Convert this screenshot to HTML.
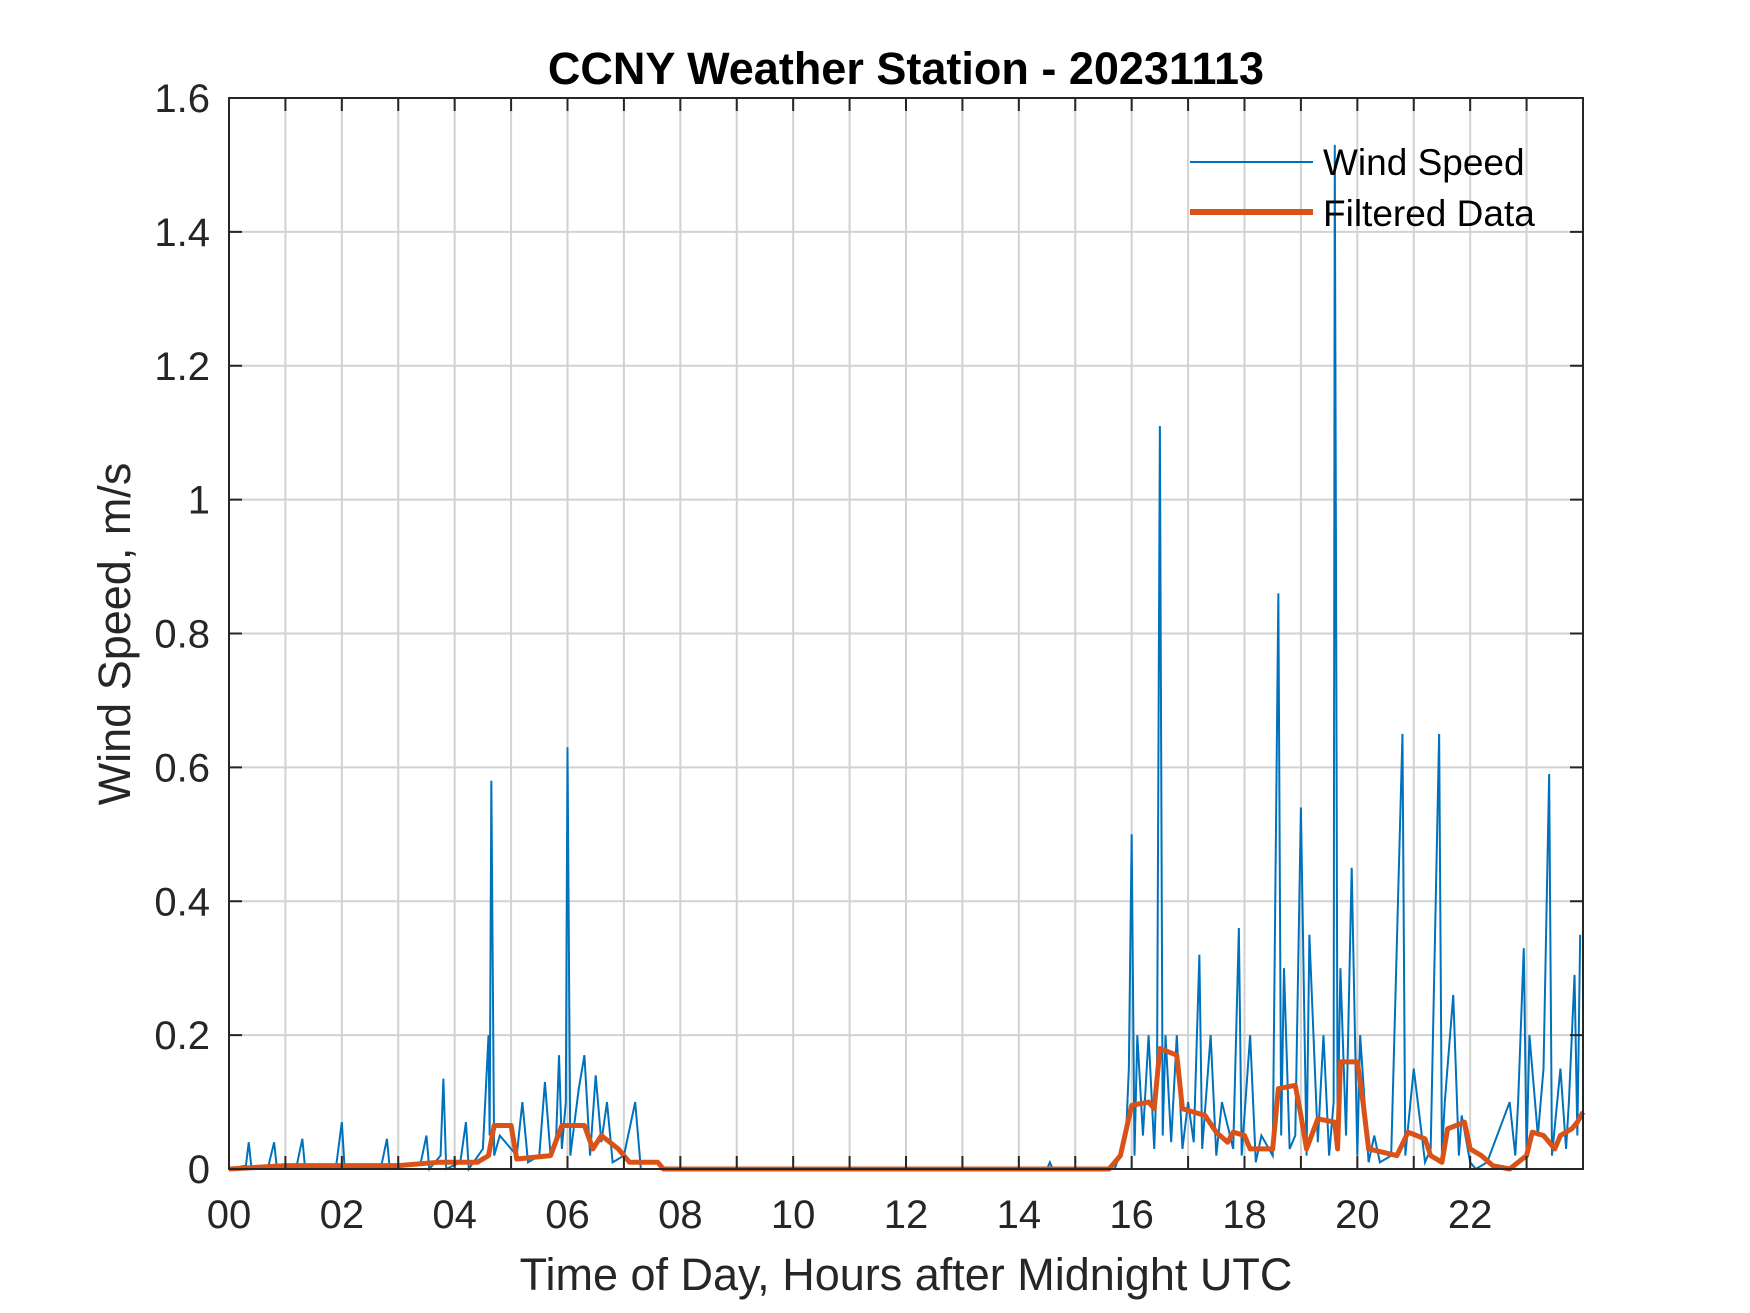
<!DOCTYPE html>
<html><head><meta charset="utf-8">
<style>
html,body{margin:0;padding:0;background:#fff;}
svg{display:block;font-family:"Liberation Sans",Arial,sans-serif;}
</style></head>
<body>
<svg id="chart" width="1750" height="1313" viewBox="0 0 1750 1313">
<rect width="1750" height="1313" fill="#fff"/>
<g id="grid"></g>
<g id="series"></g>
<g id="axes"></g>
<text x="906" y="84" text-anchor="middle" font-size="45" font-weight="bold" fill="#000">CCNY Weather Station - 20231113</text>
<text x="906" y="1290" text-anchor="middle" font-size="45" fill="#262626">Time of Day, Hours after Midnight UTC</text>
<text transform="translate(130,634) rotate(-90)" text-anchor="middle" font-size="45" fill="#262626">Wind Speed, m/s</text>
<g id="legend">
<line x1="1190" y1="162" x2="1313" y2="162" stroke="#0072BD" stroke-width="2"/>
<text x="1323" y="175" font-size="37" fill="#000">Wind Speed</text>
<line x1="1190" y1="212" x2="1313" y2="212" stroke="#D95319" stroke-width="6"/>
<text x="1323" y="226" font-size="37" fill="#000">Filtered Data</text>
</g>
</svg>
<script>
const xTicks = [0,2,4,6,8,10,12,14,16,18,20,22];
const xTickLabels = ["00","02","04","06","08","10","12","14","16","18","20","22"];
const yTicks = [0,0.2,0.4,0.6,0.8,1,1.2,1.4,1.6];
const yTickLabels = ["0","0.2","0.4","0.6","0.8","1","1.2","1.4","1.6"];
const windTimes = [0,0.3,0.35,0.4,0.7,0.8,0.85,1.2,1.3,1.35,1.9,2.0,2.05,2.7,2.8,2.85,3.4,3.5,3.55,3.75,3.8,3.85,4.1,4.2,4.25,4.5,4.6,4.62,4.65,4.7,4.8,5.1,5.2,5.3,5.5,5.6,5.7,5.8,5.85,5.9,5.97,6.0,6.05,6.2,6.3,6.4,6.5,6.6,6.7,6.8,7.0,7.2,7.3,7.5,14.5,14.55,14.6,15.7,15.9,15.95,16.0,16.05,16.1,16.2,16.3,16.4,16.45,16.5,16.55,16.6,16.7,16.8,16.9,17.0,17.1,17.2,17.25,17.4,17.5,17.6,17.8,17.9,17.95,18.1,18.2,18.3,18.5,18.6,18.65,18.7,18.8,18.9,19.0,19.1,19.15,19.3,19.4,19.5,19.58,19.6,19.63,19.65,19.7,19.8,19.9,20.0,20.05,20.2,20.3,20.4,20.6,20.8,20.85,21.0,21.2,21.3,21.45,21.5,21.55,21.7,21.8,21.85,22.0,22.1,22.3,22.7,22.8,22.85,22.95,23.0,23.05,23.2,23.3,23.4,23.45,23.6,23.7,23.75,23.85,23.9,23.95,24];
const windSpeeds = [0,0.005,0.04,0,0.005,0.04,0,0.005,0.045,0,0.005,0.07,0,0.005,0.045,0,0.01,0.05,0,0.02,0.135,0,0.01,0.07,0,0.03,0.2,0.05,0.58,0.02,0.05,0.02,0.1,0.01,0.02,0.13,0.02,0.05,0.17,0.03,0.1,0.63,0.02,0.12,0.17,0.02,0.14,0.04,0.1,0.01,0.02,0.1,0,0,0,0.01,0,0,0.05,0.15,0.5,0.02,0.2,0.05,0.2,0.03,0.15,1.11,0.05,0.2,0.04,0.2,0.03,0.1,0.04,0.32,0.03,0.2,0.02,0.1,0.03,0.36,0.02,0.2,0.01,0.05,0.02,0.86,0.05,0.3,0.03,0.05,0.54,0.02,0.35,0.04,0.2,0.02,0.1,1.53,0.67,0.05,0.3,0.05,0.45,0.02,0.2,0.01,0.05,0.01,0.02,0.65,0.02,0.15,0.01,0.03,0.65,0.02,0.1,0.26,0.02,0.08,0.01,0,0.01,0.1,0.02,0.1,0.33,0.02,0.2,0.05,0.15,0.59,0.02,0.15,0.03,0.1,0.29,0.05,0.35];
const filtTimes = [0,1,2,3,3.7,4.4,4.6,4.7,5.0,5.1,5.7,5.9,6.3,6.45,6.6,6.9,7.1,7.6,7.7,15.6,15.8,16.0,16.3,16.4,16.5,16.8,16.9,17.1,17.3,17.5,17.7,17.8,18.0,18.1,18.5,18.6,18.9,19.0,19.1,19.3,19.6,19.65,19.7,20.0,20.1,20.2,20.7,20.9,21.2,21.3,21.5,21.6,21.9,22.0,22.2,22.4,22.7,23.0,23.1,23.3,23.5,23.6,23.8,23.9,24];
const filtValues = [0,0.005,0.005,0.005,0.01,0.01,0.02,0.065,0.065,0.015,0.02,0.065,0.065,0.03,0.05,0.03,0.01,0.01,0,0,0.02,0.095,0.1,0.09,0.18,0.17,0.09,0.085,0.08,0.055,0.04,0.055,0.05,0.03,0.03,0.12,0.125,0.08,0.03,0.075,0.07,0.03,0.16,0.16,0.1,0.03,0.02,0.055,0.045,0.02,0.01,0.06,0.07,0.03,0.02,0.005,0,0.02,0.055,0.05,0.03,0.05,0.06,0.07,0.085];

const L=229,R=1583,T=98,B=1169;
const xs=h=>L+(h/24)*(R-L);
const ys=v=>B-(v/1.6)*(B-T);
const NS="http://www.w3.org/2000/svg";
function mk(tag,attrs,parent){const e=document.createElementNS(NS,tag);for(const k in attrs)e.setAttribute(k,attrs[k]);parent.appendChild(e);return e;}
const grid=document.getElementById('grid'),axes=document.getElementById('axes'),series=document.getElementById('series');
for(let h=1;h<24;h++){
  const g=mk('line',{x1:xs(h),x2:xs(h),y1:T,y2:B,stroke:'#d2d2d2','stroke-width':2},grid);
  
  
}
yTicks.forEach((v,i)=>{
  if(i>0&&i<yTicks.length-1){
    const g=mk('line',{x1:L,x2:R,y1:ys(v),y2:ys(v),stroke:'#d2d2d2','stroke-width':2},grid);
    
    
  }
  const t1=mk('line',{x1:L,x2:L+13,y1:ys(v),y2:ys(v),stroke:'#262626','stroke-width':2},axes);
  
  
  const t2=mk('line',{x1:R-13,x2:R,y1:ys(v),y2:ys(v),stroke:'#262626','stroke-width':2},axes);
  
  
  const tx=mk('text',{x:210,y:ys(v)+14,'text-anchor':'end','font-size':40,fill:'#262626'},axes);
  tx.textContent=yTickLabels[i];
  
  
});
for(let h=0;h<=24;h++){
  const t1=mk('line',{x1:xs(h),x2:xs(h),y1:B,y2:B-13,stroke:'#262626','stroke-width':2},axes);
  
  
  const t2=mk('line',{x1:xs(h),x2:xs(h),y1:T,y2:T+13,stroke:'#262626','stroke-width':2},axes);
  
  
}
xTicks.forEach((h,i)=>{
  const tx=mk('text',{x:xs(h),y:1228,'text-anchor':'middle','font-size':40,fill:'#262626'},axes);
  tx.textContent=xTickLabels[i];
  
  
});
const frame=mk('rect',{x:L,y:T,width:R-L,height:B-T,fill:'none',stroke:'#262626','stroke-width':2},axes);


const wp=mk('polyline',{points:windTimes.map((t,i)=>xs(t)+','+ys(windSpeeds[i])).join(' '),fill:'none',stroke:'#0072BD','stroke-width':2},series);


const fp=mk('polyline',{points:filtTimes.map((t,i)=>xs(t)+','+ys(filtValues[i])).join(' '),fill:'none',stroke:'#D95319','stroke-width':5,'stroke-linejoin':'round'},series);


const lg=document.getElementById('legend');
series.parentNode.appendChild(lg);
</script>
</body></html>
